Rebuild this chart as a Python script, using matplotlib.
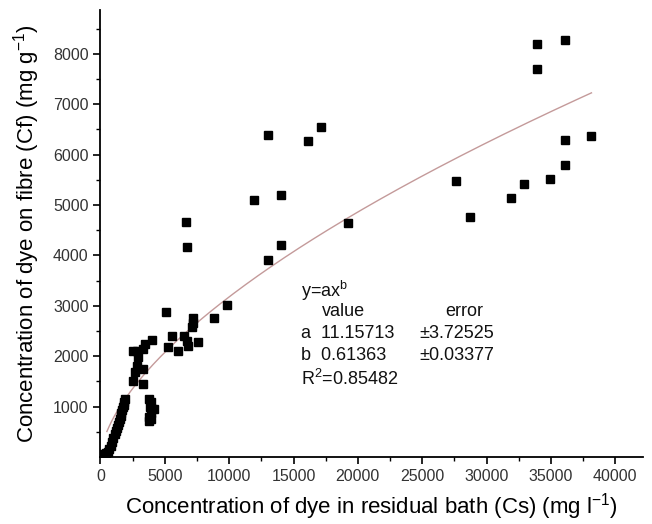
import matplotlib.pyplot as plt
import numpy as np

plt.rcParams['font.family'] = ['Liberation Sans', 'DejaVu Sans']
plt.rcParams['mathtext.fontset'] = 'custom'
plt.rcParams['mathtext.rm'] = 'Liberation Sans'

# concentration in residual bath (mg/l)
cs = [200, 400, 600, 700, 800, 900, 1000, 1100, 1200, 1280, 1350, 1420, 1500,
      1560, 1620, 1680, 1740, 1800, 1850, 1900,
      3800, 3900, 3850, 4000, 4150, 3900, 3800, 3950, 3750,
      2550, 2680, 2810, 2935, 3325, 3325, 2550, 3325, 3455, 3975, 2810,
      5085, 9800, 8810, 7205, 7160, 7080, 5530, 6480, 6690, 7590, 6820, 5265, 6040,
      12980, 17170, 16130, 6640, 6716, 11920, 14010, 14010, 12980, 19270,
      33940, 36060, 33940, 36060, 38140, 36060, 34950, 32900, 31870, 27660, 28680]
# concentration on fibre (mg/g)
cf = [60, 80, 90, 150, 220, 300, 380, 450, 520, 580, 640, 700, 760,
      820, 880, 930, 990, 1040, 1100, 1150,
      1150, 1100, 1000, 950, 950, 880, 800, 750, 720,
      1512, 1678, 1811, 1976, 1447, 1745, 2109, 2143, 2243, 2328, 2096,
      2886, 3025, 2752, 2752, 2653, 2573, 2394, 2394, 2308, 2275, 2209, 2175, 2109,
      6388, 6547, 6263, 4671, 4159, 5108, 5194, 4199, 3914, 4651,
      8199, 8273, 7695, 6294, 6368, 5791, 5512, 5427, 5134, 5467, 4762]

# fit parameters y = a * x^b
a = 11.15713
b = 0.61363
fit_x = np.linspace(500, 38150, 200)
fit_y = a * fit_x ** b

fig = plt.figure(figsize=(6.52, 5.24), dpi=100)
ax = fig.add_axes([0.1541, 0.1279, 0.832, 0.853])

ax.plot(fit_x, fit_y, color='#c49a9a', lw=1.0, zorder=2)
ax.plot(cs, cf, 's', color='black', markersize=5.6, zorder=3)

ax.set_xlim(0, 42150)
ax.set_ylim(0, 8870)

ax.set_xticks(np.arange(0, 40001, 5000))
ax.set_xticks(np.arange(2500, 42000, 5000), minor=True)
ax.set_yticks(np.arange(1000, 8001, 1000))
ax.set_yticks(np.arange(500, 8800, 1000), minor=True)

for s in ['top', 'right']:
    ax.spines[s].set_visible(False)
for s in ['left', 'bottom']:
    ax.spines[s].set_linewidth(1.3)

ax.tick_params(which='major', direction='out', length=5, width=1.2,
               labelsize=11.5, labelcolor='#333333')
ax.tick_params(which='minor', direction='out', length=3, width=1.0)

ax.set_xlabel(r'Concentration of dye in residual bath (Cs) (mg l$^{\mathregular{-1}}$)',
              fontsize=16, labelpad=5)
ax.set_ylabel(r'Concentration of dye on fibre (Cf) (mg g$^{\mathregular{-1}}$)',
              fontsize=16, labelpad=8)

# fit annotation
kw = dict(fontsize=13, color='#111111', va='center', ha='left')
ax.text(15570, 3300, r'y=ax$^{\mathregular{b}}$', **kw)
ax.text(17200, 2880, 'value', **kw)
ax.text(26820, 2880, 'error', **kw)
ax.text(15570, 2448, 'a  11.15713', **kw)
ax.text(24800, 2448, '\u00b13.72525', **kw)
ax.text(15570, 2010, 'b  0.61363', **kw)
ax.text(24800, 2010, '\u00b10.03377', **kw)
ax.text(15570, 1552, r'R$^{\mathregular{2}}$=0.85482', **kw)

fig.savefig('out.png', dpi=100)
